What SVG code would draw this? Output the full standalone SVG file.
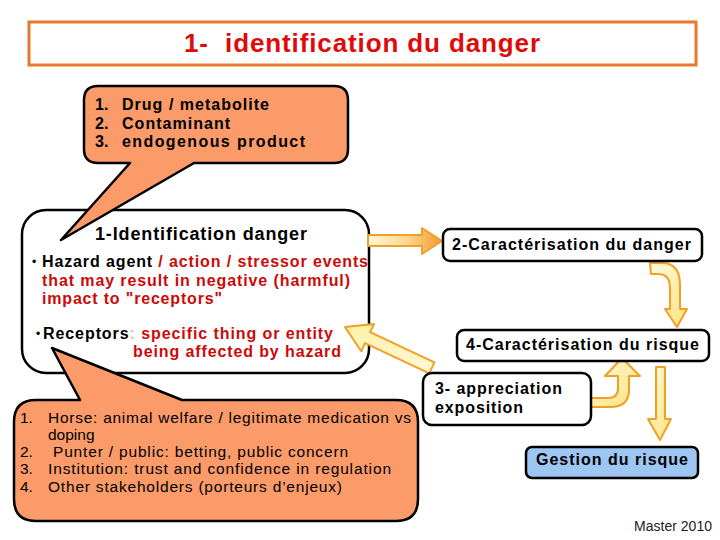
<svg xmlns="http://www.w3.org/2000/svg" width="720" height="540" viewBox="0 0 720 540">
<defs>
<style>
.t{font-family:"Liberation Sans",Arial,sans-serif;}
.b{font-weight:bold;}
.blk{fill:#000;}
.red{fill:#CC0A0A;}
.box{fill:#fff;stroke:#000;stroke-width:2.5;}
.call{fill:#FA9B69;stroke:#000;stroke-width:2.5;stroke-linejoin:round;}
.arr{stroke:#F0A024;stroke-width:2;stroke-linejoin:round;}
</style>
<linearGradient id="gH" x1="0" y1="0" x2="1" y2="0">
<stop offset="0" stop-color="#FFF8D8"/>
<stop offset="0.55" stop-color="#FCD58A"/>
<stop offset="1" stop-color="#F29A2E"/>
</linearGradient>
<linearGradient id="gY" x1="0" y1="0" x2="1" y2="1">
<stop offset="0" stop-color="#FFFBE4"/>
<stop offset="1" stop-color="#FFE27A"/>
</linearGradient>
<linearGradient id="gD" x1="0" y1="0" x2="1" y2="1">
<stop offset="0" stop-color="#FFEC96"/>
<stop offset="1" stop-color="#FFFBE6"/>
</linearGradient>
</defs>
<rect width="720" height="540" fill="#fff"/>

<g id="title">
<rect x="29" y="22" width="667" height="43" fill="#fff" stroke="#E8782A" stroke-width="3"/>
<text class="t b" x="184" y="52" font-size="26" fill="#E00A0A" textLength="356" xml:space="preserve">1-  identification du danger</text>
</g>

<g id="main-box">
<rect class="box" x="22" y="210" width="347" height="163" rx="24"/>
<text class="t b blk" x="95" y="240" font-size="18" textLength="212">1-Identification danger</text>
<text class="t blk" x="32" y="266" font-size="12">•</text>
<text class="t b" x="42" y="267" font-size="16" textLength="326"><tspan class="blk">Hazard agent</tspan><tspan class="red"> / action / stressor events</tspan></text>
<text class="t b red" x="42" y="286" font-size="16" textLength="308">that may result in negative (harmful)</text>
<text class="t b red" x="42" y="304" font-size="16" textLength="180">impact to "receptors"</text>
<text class="t blk" x="36" y="338" font-size="12">•</text>
<text class="t b" x="43" y="339" font-size="16" textLength="290"><tspan class="blk">Receptors</tspan><tspan fill="#E6C48C">: </tspan><tspan class="red">specific thing or entity</tspan></text>
<text class="t b red" x="133" y="357" font-size="16" textLength="208">being affected by hazard</text>
</g>

<g id="callout-agents">
<path class="call" d="M98,86 H334 Q348,86 348,100 V149 Q348,163 334,163 H194 L61,240 L130,163 H98 Q84,163 84,149 V100 Q84,86 98,86 Z"/>
<text class="t b blk" font-size="16"><tspan x="95" y="110">1.</tspan><tspan x="95" y="129">2.</tspan><tspan x="95" y="147">3.</tspan></text>
<text class="t b blk" x="122" y="110" font-size="16" textLength="147">Drug / metabolite</text>
<text class="t b blk" x="122" y="129" font-size="16" textLength="108">Contaminant</text>
<text class="t b blk" x="122" y="147" font-size="16" textLength="183">endogenous product</text>
</g>

<g id="callout-receptors">
<path class="call" d="M36,400 H80 L52,348 L182,400 H396 Q418,400 418,422 V499 Q418,521 396,521 H36 Q14,521 14,499 V422 Q14,400 36,400 Z"/>
<text class="t blk" font-size="15.5"><tspan x="20" y="423">1.</tspan><tspan x="20" y="457">2.</tspan><tspan x="20" y="474">3.</tspan><tspan x="20" y="492">4.</tspan></text>
<text class="t blk" x="48" y="423" font-size="15.5" textLength="363">Horse: animal welfare / legitimate medication vs</text>
<text class="t blk" x="48" y="440" font-size="15.5">doping</text>
<text class="t blk" x="53" y="457" font-size="15.5" textLength="295">Punter / public: betting, public concern</text>
<text class="t blk" x="48" y="474" font-size="15.5" textLength="343">Institution: trust and confidence in regulation</text>
<text class="t blk" x="48" y="492" font-size="15.5" textLength="294">Other stakeholders (porteurs d’enjeux)</text>
</g>

<g id="connectors">
<path class="arr" fill="url(#gH)" d="M368,235 H422 V228 L442,241 L422,254 V246 H368 Z"/>
<path class="arr" fill="url(#gD)" transform="translate(345,327) rotate(25.2)" d="M0,0 L25,-15 V-6 H96 V6 H25 V15 Z"/>
<path class="arr" fill="url(#gY)" d="M650,263 H662 Q680,263 680,285 V309 H687 L677,327 L665,309 H670 V288 Q670,274 658,274 H651 Z"/>
<path class="arr" fill="url(#gY)" d="M582,398 H608 Q618,398 618,388 V376 H605 L622,358 L640,376 H629 V390 Q629,407 610,407 H582 Z"/>
<path class="arr" fill="url(#gY)" d="M656,367 H665 V419 H671 L660,440 L648,419 H656 Z"/>
</g>

<g id="caract-danger">
<rect class="box" x="443" y="229" width="259" height="32" rx="7"/>
<text class="t b blk" x="452" y="250" font-size="16" textLength="239">2-Caractérisation du danger</text>
</g>

<g id="caract-risque">
<rect class="box" x="457" y="330" width="252" height="31" rx="7"/>
<text class="t b blk" x="466" y="350" font-size="16" textLength="233">4-Caractérisation du risque</text>
</g>

<g id="appreciation-exposition">
<rect class="box" x="423" y="373" width="168" height="52" rx="9"/>
<text class="t b blk" x="435" y="394" font-size="16" textLength="127">3- appreciation</text>
<text class="t b blk" x="435" y="413" font-size="16" textLength="88">exposition</text>
</g>

<g id="gestion-risque">
<rect x="526" y="447" width="172" height="31" rx="6" fill="#9DC6F2" stroke="#000" stroke-width="2.5"/>
<text class="t b blk" x="536" y="465" font-size="16" textLength="152">Gestion du risque</text>
</g>

<text class="t" x="634" y="531" font-size="14" fill="#222" textLength="78">Master 2010</text>
</svg>
